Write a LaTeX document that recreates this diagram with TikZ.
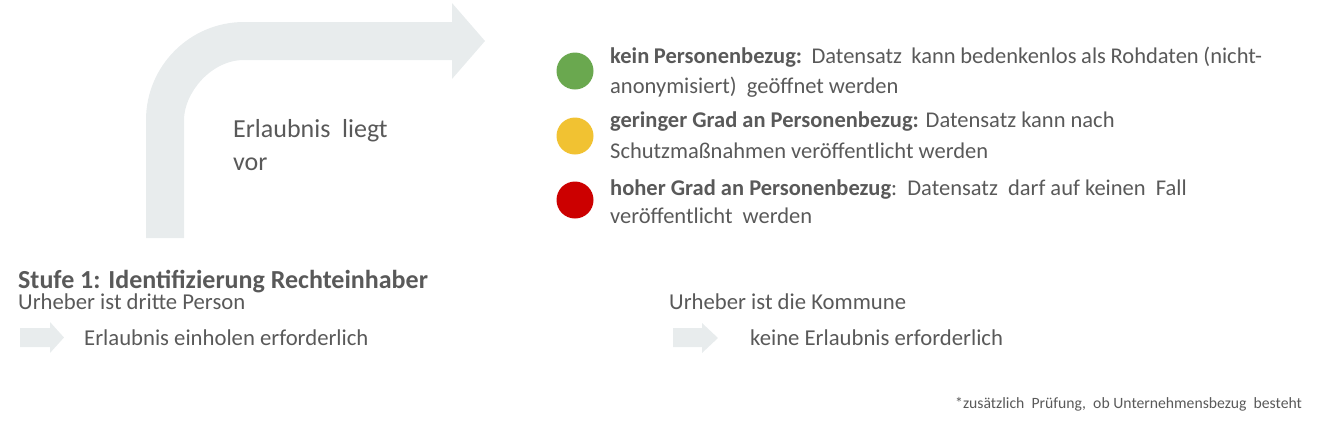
\documentclass[tikz,border=0pt]{standalone}
\usepackage{fontspec}
\setmainfont{Carlito}
\definecolor{arrowgray}{HTML}{E8ECED}
\definecolor{txt}{HTML}{595959}
\definecolor{okgreen}{HTML}{6AA84F}
\definecolor{midyellow}{HTML}{F1C232}
\definecolor{badred}{HTML}{CC0000}
\tikzset{
  lbl/.style={anchor=base west, inner sep=0pt, text=txt},
  big/.style={lbl, font=\fontsize{26}{30}\selectfont},
  med/.style={lbl, font=\fontsize{22.7}{26}\selectfont},
  list/.style={lbl, font=\fontsize{22.5}{26}\selectfont},
  small/.style={lbl, font=\fontsize{15.7}{18}\selectfont},
  dot/.style={circle, minimum size=37pt, inner sep=0pt},
  grayarrow/.style={fill=arrowgray, draw=none}
}
\begin{document}
\begin{tikzpicture}[x=1pt, y=-1pt]
\useasboundingbox (0,0) rectangle (1318,424);
% big bent arrow
\path[grayarrow] (146,238) -- (146,120)
  .. controls (146,65.9) and (189.9,22) .. (244,22)
  -- (452,22) -- (452,3) -- (485,41) -- (452,79) -- (452,60) -- (244,60)
  .. controls (210.9,60) and (184,93.1) .. (184,120)
  -- (184,238) -- cycle;
\node[big] (erl) at (233,137) {Erlaubnis\ \ liegt};
\node[big] (vor) at (233,170) {vor};
% traffic light list
\node[dot, fill=okgreen] (g) at (575,71) {};
\node[dot, fill=midyellow] (y) at (575,136) {};
\node[dot, fill=badred] (r) at (575,200) {};
\node[list] (l1) at (610,63) {\makebox[652pt][s]{\textbf{kein Personenbezug:}\ \ Datensatz\ \ kann bedenkenlos als Rohdaten (nicht-}};
\node[list] (l2) at (610,93) {anonymisiert)\ \ geöffnet werden};
\node[list] (l3) at (610,127) {\textbf{geringer Grad an Personenbezug:} Datensatz kann nach};
\node[list] (l4) at (610,158) {Schutzmaßnahmen veröffentlicht werden};
\node[list] (l5) at (610,195) {\textbf{hoher Grad an Personenbezug}:\ \ Datensatz\ \ darf auf keinen\ \ Fall};
\node[list] (l6) at (610,223) {veröffentlicht\ \ werden};
% Stufe 1
\node[lbl, font=\fontsize{26}{30}\selectfont\bfseries] (stufe) at (18,288) {Stufe 1: Identifizierung\ Rechteinhaber};
\node[med] (dritte) at (18,309) {Urheber ist dritte Person};
\path[grayarrow] (20,328) -- (50,328) -- (50,322) -- (64,337.5) -- (50,353) -- (50,347) -- (20,347) -- cycle;
\node[med] (einholen) at (84,345) {Erlaubnis einholen erforderlich};
\node[med] (kommune) at (669,309) {Urheber ist die Kommune};
\path[grayarrow] (673,328) -- (702,328) -- (702,323) -- (718,338) -- (702,353) -- (702,347) -- (673,347) -- cycle;
\node[med] (keine) at (750,345) {keine Erlaubnis erforderlich};
\node[small] (foot) at (955,408) {*zusätzlich\ \ Prüfung,\ \ ob Unternehmensbezug\ \ besteht};
\end{tikzpicture}
\end{document}
